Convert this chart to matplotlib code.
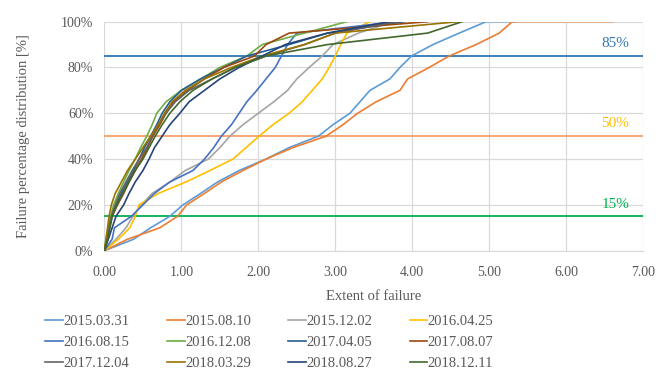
import matplotlib
matplotlib.use("Agg")
import matplotlib.pyplot as plt
from matplotlib.ticker import FuncFormatter

plt.rcParams['font.family'] = ['Liberation Serif', 'DejaVu Serif']

# cumulative share levels [%]; each series gives the extent where that level is reached
levels = [0, 5, 10, 15, 20, 25, 30, 35, 40, 45, 50, 55, 60, 65, 70, 75, 80, 85, 90, 95, 100]

s_2015_03_31 = [0, 0.38, 0.6, 0.85, 1.02, 1.25, 1.47, 1.75, 2.1, 2.4, 2.78, 2.97, 3.19, 3.32, 3.45, 3.71, 3.84, 3.99, 4.27, 4.61, 4.96]
s_2015_08_10 = [0, 0.3, 0.72, 0.95, 1.07, 1.3, 1.52, 1.8, 2.1, 2.45, 2.88, 3.1, 3.29, 3.53, 3.84, 3.94, 4.22, 4.48, 4.83, 5.13, 5.3]
s_2015_12_02 = [0, 0.15, 0.28, 0.37, 0.48, 0.62, 0.85, 1.05, 1.35, 1.5, 1.63, 1.8, 2.0, 2.2, 2.38, 2.5, 2.66, 2.83, 2.97, 3.3, 3.75]
s_2016_04_25 = [0, 0.18, 0.33, 0.4, 0.45, 0.7, 1.06, 1.37, 1.67, 1.84, 2.01, 2.19, 2.4, 2.57, 2.7, 2.83, 2.92, 3.0, 3.07, 3.15, 3.45]
s_2016_08_15 = [0, 0.1, 0.13, 0.35, 0.5, 0.65, 0.85, 1.15, 1.3, 1.42, 1.52, 1.65, 1.75, 1.85, 1.98, 2.1, 2.22, 2.3, 2.38, 2.5, 3.8]
s_2016_12_08 = [0, 0.02, 0.05, 0.08, 0.12, 0.18, 0.25, 0.32, 0.4, 0.47, 0.55, 0.62, 0.68, 0.8, 1.0, 1.25, 1.5, 1.85, 2.05, 2.6, 3.15]
s_2017_04_05 = [0, 0.04, 0.07, 0.1, 0.15, 0.22, 0.3, 0.38, 0.45, 0.52, 0.6, 0.68, 0.75, 0.85, 1.0, 1.25, 1.55, 1.85, 2.4, 2.9, 3.9]
s_2017_08_07 = [0, 0.03, 0.06, 0.1, 0.17, 0.25, 0.32, 0.4, 0.48, 0.56, 0.63, 0.72, 0.8, 0.9, 1.08, 1.3, 1.55, 1.95, 2.1, 2.4, 4.2]
s_2017_12_04 = [0, 0.03, 0.06, 0.09, 0.14, 0.2, 0.28, 0.36, 0.45, 0.55, 0.62, 0.7, 0.8, 0.92, 1.1, 1.4, 1.7, 2.1, 2.6, 3.0, 3.8]
s_2018_03_29 = [0, 0.02, 0.04, 0.06, 0.09, 0.14, 0.22, 0.3, 0.4, 0.5, 0.6, 0.7, 0.78, 0.88, 1.05, 1.3, 1.65, 2.05, 2.6, 3.0, 4.6]
s_2018_08_27 = [0, 0.05, 0.1, 0.15, 0.25, 0.32, 0.4, 0.5, 0.58, 0.65, 0.75, 0.85, 0.98, 1.1, 1.3, 1.5, 1.75, 2.05, 2.35, 2.9, 3.7]
s_2018_12_11 = [0, 0.04, 0.07, 0.1, 0.16, 0.24, 0.32, 0.4, 0.5, 0.58, 0.66, 0.75, 0.85, 0.98, 1.15, 1.4, 1.7, 2.1, 2.9, 4.2, 4.65]

# where the two slowest campaigns stay flat at 100 %
tail_2015_03_31 = 5.35
tail_2015_08_10 = 6.6

names = ["2015.03.31", "2015.08.10", "2015.12.02", "2016.04.25",
         "2016.08.15", "2016.12.08", "2017.04.05", "2017.08.07",
         "2017.12.04", "2018.03.29", "2018.08.27", "2018.12.11"]
series = [s_2015_03_31, s_2015_08_10, s_2015_12_02, s_2016_04_25,
          s_2016_08_15, s_2016_12_08, s_2017_04_05, s_2017_08_07,
          s_2017_12_04, s_2018_03_29, s_2018_08_27, s_2018_12_11]
colors = ["#5B9BD5", "#ED7D31", "#A5A5A5", "#FFC000",
          "#4472C4", "#70AD47", "#255E91", "#9E480E",
          "#636363", "#997300", "#264478", "#43682B"]

thresholds = [85, 50, 15]
threshold_colors = ["#2E75B6", "#F4A06A", "#00B050"]
threshold_label_colors = ["#2E75B6", "#FFC000", "#00B050"]

fig = plt.figure(figsize=(6.61, 3.83), dpi=100)
ax = fig.add_axes([0.158, 0.3455, 0.815, 0.598])

handles = []
for name, xs, c in zip(names, series, colors):
    xs = list(xs)
    ys = list(levels)
    if name == "2015.03.31":
        xs.append(tail_2015_03_31)
        ys.append(100)
    if name == "2015.08.10":
        xs.append(tail_2015_08_10)
        ys.append(100)
    line, = ax.plot(xs, ys, color=c, lw=1.2, label=name, zorder=3)
    handles.append(line)

for t, c, lc in zip(thresholds, threshold_colors, threshold_label_colors):
    ax.axhline(t, color=c, lw=1.3, zorder=2)
    ax.text(6.64, t + 2.5, f"{t}%", color=lc, fontsize=11, ha="center", va="bottom")

ax.set_xlim(0, 7)
ax.set_ylim(0, 100)
ax.set_xticks(range(0, 8))
ax.set_yticks(range(0, 101, 20))
ax.xaxis.set_major_formatter(FuncFormatter(lambda v, p: f"{v:.2f}"))
ax.yaxis.set_major_formatter(FuncFormatter(lambda v, p: f"{v:.0f}%"))
ax.grid(True, color="#D9D9D9", lw=0.9, zorder=0)
ax.set_axisbelow(True)
for side in ["top", "right", "left"]:
    ax.spines[side].set_visible(False)
ax.spines["bottom"].set_color("#D9D9D9")
ax.tick_params(axis="x", length=0, labelsize=10, colors="#595959", pad=11)
ax.tick_params(axis="y", length=0, labelsize=10, colors="#595959", pad=8)

ax.set_xlabel("Extent of failure", fontsize=10.5, color="#595959", labelpad=8)
ax.set_ylabel("Failure percentage distribution [%]", fontsize=10.5, color="#595959", labelpad=22)

# legend is filled row by row, matplotlib fills columns, so reorder
order = [0, 4, 8, 1, 5, 9, 2, 6, 10, 3, 7, 11]
fig.legend([handles[i] for i in order], [names[i] for i in order],
           loc="upper left", bbox_to_anchor=(0.06, 0.193), ncol=4, frameon=False,
           fontsize=10.5, handlelength=1.2, handletextpad=0.05, columnspacing=2.55,
           labelspacing=0.52, labelcolor="#595959", borderaxespad=0)

fig.savefig("out.png", dpi=100)
